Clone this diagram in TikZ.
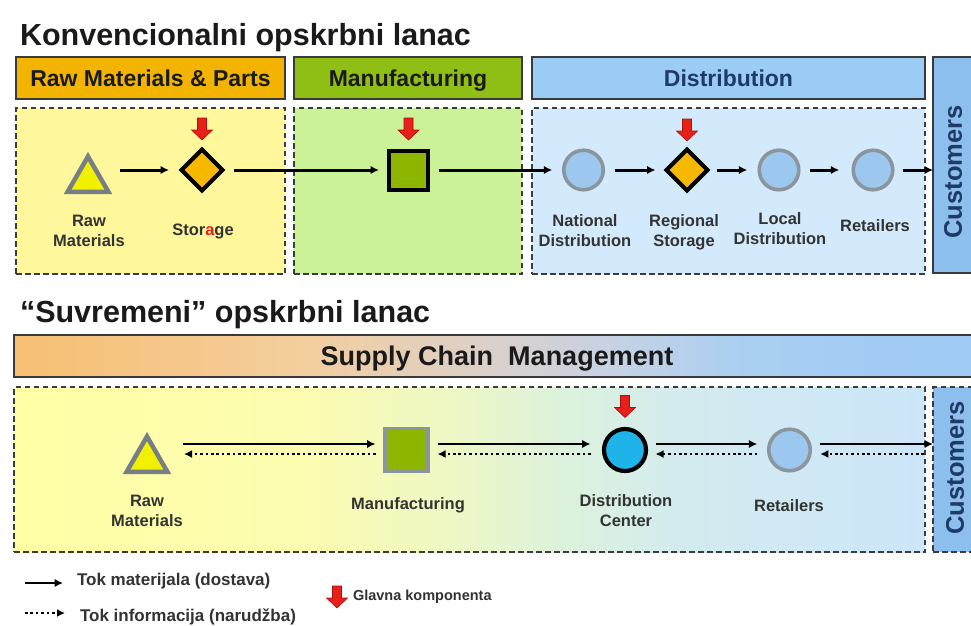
\documentclass[tikz,border=0pt]{standalone}
\usepackage{fontspec}
\setmainfont{Liberation Sans}
\usetikzlibrary{arrows.meta,shapes.geometric,calc}
\definecolor{hdrOr}{HTML}{F2B400}
\definecolor{hdrGr}{HTML}{8FBE14}
\definecolor{hdrBl}{HTML}{9ACCF5}
\definecolor{hdrLine}{HTML}{3A3A3A}
\definecolor{zoneLine}{HTML}{3C3C3C}
\definecolor{zYel}{HTML}{FFF79C}
\definecolor{zGrn}{HTML}{CBF296}
\definecolor{zBlu}{HTML}{D3EAFC}
\definecolor{custBl}{HTML}{8DBFEE}
\definecolor{custTxt}{HTML}{1E3A66}
\definecolor{triYel}{HTML}{F0F000}
\definecolor{diaOr}{HTML}{F7B800}
\definecolor{sqGrn}{HTML}{8DB600}
\definecolor{circBl}{HTML}{9CC8F0}
\definecolor{dcCyan}{HTML}{1EB4EA}
\definecolor{nodeGray}{HTML}{8C949C}
\definecolor{lblGray}{HTML}{333333}
\definecolor{titleTxt}{HTML}{1A1A1A}
\definecolor{arrRed}{HTML}{E8201A}
\definecolor{arrRedD}{HTML}{A81010}
\definecolor{scmA}{HTML}{F6BF72}
\definecolor{scmB}{HTML}{F4CE9E}
\definecolor{scmC}{HTML}{DCD0C8}
\definecolor{scmD}{HTML}{C6D2E4}
\definecolor{scmE}{HTML}{A9CEF2}
\definecolor{scmF}{HTML}{9ECBF5}
\definecolor{zgA}{HTML}{FFFFA6}
\definecolor{zgB}{HTML}{FCFCB0}
\definecolor{zgC}{HTML}{EEF8C4}
\definecolor{zgD}{HTML}{DDF2DC}
\definecolor{zgE}{HTML}{D3EBEE}
\definecolor{zgF}{HTML}{CCE6FA}
\pgfdeclarehorizontalshading{scmgrad}{100bp}{color(0bp)=(scmA); color(25bp)=(scmA); color(40bp)=(scmB); color(49bp)=(scmC); color(56bp)=(scmD); color(63bp)=(scmE); color(75bp)=(scmF); color(100bp)=(scmF)}
\pgfdeclarehorizontalshading{zgrad}{100bp}{color(0bp)=(zgA); color(25bp)=(zgA); color(40.7bp)=(zgB); color(48.9bp)=(zgC); color(55bp)=(zgD); color(61.5bp)=(zgE); color(75bp)=(zgF); color(100bp)=(zgF)}
\tikzset{
  title/.style={anchor=base west, inner sep=0, outer sep=0, text=titleTxt, font=\fontsize{30.5}{36}\selectfont\bfseries},
  hdr/.style={draw=hdrLine, line width=1.6pt, inner sep=0, outer sep=0, anchor=north west, text=titleTxt, text height=16.5pt, text depth=0pt, font=\fontsize{23}{27}\selectfont\bfseries},
  zone/.style={draw=zoneLine, line width=1.6pt, dash pattern=on 5.5pt off 3.5pt, inner sep=0, outer sep=0, anchor=north west},
  custbox/.style={draw=hdrLine, line width=1.6pt, fill=custBl, inner sep=0, outer sep=0, anchor=north west},
  custtxt/.style={rotate=90, inner sep=0, text=custTxt, font=\fontsize{25.5}{30}\selectfont\bfseries},
  flow/.style={line width=3pt, -{Latex[length=8.5pt,width=8.5pt]}},
  info/.style={line width=2.4pt, dash pattern=on 2.6pt off 2.8pt, -{Latex[length=8pt,width=8pt]}},
  lbl/.style={anchor=north, align=center, inner sep=0, outer sep=0, text=lblGray, font=\fontsize{16.5}{20}\selectfont\bfseries},
  legtxt/.style={anchor=base west, inner sep=0, outer sep=0, text=lblGray, font=\fontsize{17}{20}\selectfont\bfseries},
  tri/.style={regular polygon, regular polygon sides=3, minimum size=47pt, inner sep=0, outer sep=0, draw=nodeGray!85!black, line width=4.5pt, fill=triYel},
  dia/.style={diamond, minimum width=41pt, minimum height=41pt, inner sep=0, outer sep=0, draw=black, line width=4pt, fill=diaOr},
  sqr/.style={rectangle, minimum size=39pt, inner sep=0, outer sep=0, fill=sqGrn, line width=4pt},
  circ/.style={circle, minimum size=39.5pt, inner sep=0, outer sep=0, draw=nodeGray, line width=3.6pt, fill=circBl},
  mainarr/.pic={\filldraw[fill=arrRed, draw=arrRedD, line width=0.6pt] (-4.5,-22) -- (4.5,-22) -- (4.5,-10) -- (10.5,-10) -- (0,0) -- (-10.5,-10) -- (-4.5,-10) -- cycle;}
}
\begin{document}
\begin{tikzpicture}[x=1pt,y=-1pt]
\useasboundingbox (0,0) rectangle (971,625);
\fill[white] (0,0) rectangle (971,625);

% ---------- conventional chain ----------
\node[title] (t1) at (20,45) {Konvencionalni opskrbni lanac};

\node[hdr, fill=hdrOr, minimum width=269pt, minimum height=42pt] (h1) at (16,57) {Raw Materials \& Parts};
\node[hdr, fill=hdrGr, minimum width=228pt, minimum height=42pt] (h2) at (294,57) {Manufacturing};
\node[hdr, fill=hdrBl, minimum width=393pt, minimum height=42pt, text=custTxt] (h3) at (532,57) {Distribution};
\node[custbox, minimum width=50pt, minimum height=216pt] (c1) at (933,57) {};
\node[custtxt] (c1t) at (953,172) {Customers};

\node[zone, fill=zYel, minimum width=269pt, minimum height=166pt] (z1) at (16,108) {};
\node[zone, fill=zGrn, minimum width=228pt, minimum height=166pt] (z2) at (294,108) {};
\node[zone, fill=zBlu, minimum width=393pt, minimum height=166pt] (z3) at (532,108) {};

\node[tri] (rm) at (88,180) {};
\node[dia] (st) at (202,170) {};
\node[sqr, draw=black] (mf) at (408.5,170) {};
\node[circ] (nd) at (583.5,170) {};
\node[dia] (rs) at (687,170) {};
\node[circ] (ld) at (779,170) {};
\node[circ] (rt) at (873,170) {};

\node[lbl] (rmL) at (89,215) {Raw\\Materials};
\node[lbl] (stL) at (203,224) {Stor{\color{arrRed}a}ge};
\node[lbl] (ndL) at (585,215) {National\\Distribution};
\node[lbl] (rsL) at (684,215) {Regional\\Storage};
\node[lbl] (ldL) at (780,213) {Local\\Distribution};
\node[lbl] (rtL) at (875,220) {Retailers};

\draw[flow] ($(rm |- st)+(32,0)$) -- ($(st.west)+(-12.5,0)$);
\draw[flow] ($(st.east)+(11.5,0)$) -- ($(mf.west)+(-10,0)$);
\draw[flow] ($(mf.east)+(11,0)$) -- ($(nd.west)+(-11.5,0)$);
\draw[flow] ($(nd.east)+(11.5,0)$) -- ($(rs.west)+(-11,0)$);
\draw[flow] ($(rs.east)+(9,0)$) -- ($(ld.west)+(-12,0)$);
\draw[flow] ($(ld.east)+(11,0)$) -- ($(rt.west)+(-14,0)$);
\draw[flow] ($(rt.east)+(10,0)$) -- (c1.west |- rt);

\pic at ($(st.north)+(0,-9.5)$) {mainarr};
\pic at ($(mf.north)+(0,-10.5)$) {mainarr};
\pic at ($(rs.north)+(0,-8.5)$) {mainarr};

% ---------- modern chain ----------
\node[title] (t2) at (20,322) {“Suvremeni” opskrbni lanac};

\node[hdr, shade, shading=scmgrad, minimum width=966pt, minimum height=42pt, font=\fontsize{27}{32}\selectfont\bfseries, text height=19.5pt] (scm) at (14,335) {Supply Chain~ Management};

\node[zone, shade, shading=zgrad, minimum width=911pt, minimum height=165pt] (z4) at (14,387) {};
\node[zone, fill=custBl, minimum width=50pt, minimum height=165pt] (c2) at (933,387) {};
\node[custtxt] (c2t) at (955,468) {Customers};

\node[tri] (rm2) at (147,460) {};
\node[sqr, draw=nodeGray, minimum size=43pt, line width=3.8pt] (mf2) at (406.5,450) {};
\node[circ, draw=black, fill=dcCyan, minimum size=42pt, line width=4.2pt] (dc) at (625,450) {};
\node[circ, minimum size=41.5pt] (rt2) at (789.5,450) {};

\node[lbl] (rm2L) at (147,495) {Raw\\Materials};
\node[lbl] (mf2L) at (408,498) {Manufacturing};
\node[lbl] (dcL) at (626,495) {Distribution\\Center};
\node[lbl] (rt2L) at (789,500) {Retailers};

\draw[flow, line width=2.8pt] ($(rm2 |- mf2)+(36,-6)$) -- ($(mf2.west)+(-9.5,-6)$);
\draw[info] ($(mf2.west)+(-9.5,4)$) -- ($(rm2 |- mf2)+(37,4)$);
\draw[flow, line width=2.8pt] ($(mf2.east)+(9.5,-6)$) -- ($(dc.west)+(-13.5,-6)$);
\draw[info] ($(dc.west)+(-13.5,4)$) -- ($(mf2.east)+(9.5,4)$);
\draw[flow, line width=2.8pt] ($(dc.east)+(9.5,-6)$) -- ($(rt2.west)+(-11.5,-6)$);
\draw[info] ($(rt2.west)+(-11.5,4)$) -- ($(dc.east)+(9.5,4)$);
\draw[flow, line width=2.8pt] ($(rt2.east)+(9.5,-6)$) -- ($(c2.west |- rt2)+(0,-6)$);
\draw[info] ($(c2.west |- rt2)+(-9,4)$) -- ($(rt2.east)+(10,4)$);

\pic at ($(dc.north)+(0,-11.5)$) {mainarr};

% ---------- legend ----------
\coordinate (lgA1) at (25,583);
\coordinate (lgB1) at (63,583);
\coordinate (lgA2) at (25,613);
\coordinate (lgB2) at (65,613);
\draw[flow, line width=2.6pt] (lgA1) -- (lgB1);
\draw[info] (lgA2) -- (lgB2);
\node[legtxt] (lt1) at (77,585) {Tok materijala (dostava)};
\node[legtxt] (lt2) at (80,621) {Tok informacija (narudžba)};
\coordinate (lgR) at (337,608);
\pic at (lgR) {mainarr};
\node[legtxt, font=\fontsize{14.5}{18}\selectfont\bfseries] (lt3) at (353,600) {Glavna komponenta};
\end{tikzpicture}
\end{document}
